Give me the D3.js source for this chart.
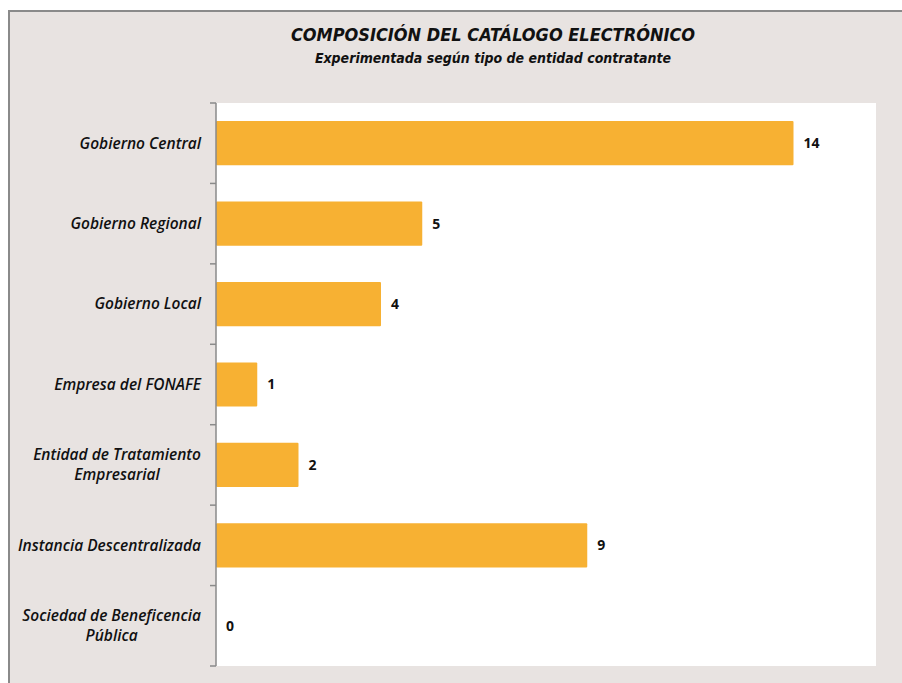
<!DOCTYPE html>
<html>
<head>
<meta charset="utf-8">
<script src="https://d3js.org/d3.v7.min.js"></script>
<style>
body { margin: 0; background: #fff; overflow: hidden; }
text { font-family: "Open Sans", Lato, sans-serif; }
.title { font-family: "DejaVu Sans Condensed", "DejaVu Sans", sans-serif; font-weight: bold; font-style: italic; font-size: 18px; fill: #111; }
.subtitle { font-family: "DejaVu Sans Condensed", "DejaVu Sans", sans-serif; font-weight: bold; font-style: italic; font-size: 14px; fill: #111; }
.cat text { font-style: italic; font-weight: 600; font-size: 15.5px; fill: #111; }
.val { font-weight: bold; font-size: 14px; fill: #111; }
</style>
</head>
<body>
<svg width="902" height="683"></svg>
<script>
const categories = [
  'Gobierno Central',
  'Gobierno Regional',
  'Gobierno Local',
  'Empresa del FONAFE',
  'Entidad de Tratamiento\nEmpresarial',
  'Instancia Descentralizada',
  'Sociedad de Beneficencia\nPública'
];
const values = [14, 5, 4, 1, 2, 9, 0];
const title = 'COMPOSICIÓN DEL CATÁLOGO ELECTRÓNICO';
const subtitle = 'Experimentada según tipo de entidad contratante';

const svg = d3.select('svg');
const W = 902, H = 683;
const margin = {left: 216, top: 103, right: 26, bottom: 17};
const plotW = W - margin.left - margin.right;
const plotH = H - margin.top - margin.bottom;

// frame
svg.append('rect').attr('x', 0).attr('y', 0).attr('width', W).attr('height', H).attr('fill', '#fff');
svg.append('rect').attr('x', 9).attr('y', 11).attr('width', W).attr('height', H)
  .attr('fill', '#e8e3e1').attr('stroke', '#8a8a8a').attr('stroke-width', 2);

svg.append('text').attr('class', 'title').attr('x', 493).attr('y', 41)
  .attr('text-anchor', 'middle').text(title);
svg.append('text').attr('class', 'subtitle').attr('x', 493).attr('y', 63)
  .attr('text-anchor', 'middle').text(subtitle);

const g = svg.append('g').attr('transform', `translate(${margin.left},${margin.top})`);
g.append('rect').attr('width', plotW).attr('height', plotH).attr('fill', '#fff');

const x = d3.scaleLinear().domain([0, 16]).range([0, plotW]);
const y = d3.scaleBand().domain(categories).range([0, plotH]).paddingInner(0.45).paddingOuter(0.225);

g.selectAll('.bar').data(values).join('rect')
  .attr('class', 'bar')
  .attr('x', 0)
  .attr('y', (d, i) => y(categories[i]))
  .attr('width', d => x(d))
  .attr('height', y.bandwidth())
  .attr('rx', 1)
  .attr('fill', '#f7b133');

g.selectAll('.val').data(values).join('text')
  .attr('class', 'val')
  .attr('x', d => x(d) + 10)
  .attr('y', (d, i) => y(categories[i]) + y.bandwidth() / 2)
  .attr('dy', '0.35em')
  .text(d => d);

// axis line with ticks at category boundaries
const step = plotH / categories.length;
const axis = g.append('g').attr('class', 'axis');
axis.append('line').attr('x1', 0).attr('x2', 0).attr('y1', 0).attr('y2', plotH)
  .attr('stroke', '#8a8a8a').attr('stroke-width', 1.5);
axis.selectAll('.tick').data(d3.range(categories.length + 1)).join('line')
  .attr('class', 'tick')
  .attr('x1', -6).attr('x2', 0)
  .attr('y1', d => d * step).attr('y2', d => d * step)
  .attr('stroke', '#8a8a8a').attr('stroke-width', 1.5);

// category labels: block right aligned, lines centred within block
const cat = g.append('g').attr('class', 'cat');
categories.forEach(c => {
  const lines = c.split('\n');
  const cy = y(c) + y.bandwidth() / 2;
  const lh = 20;
  const t = cat.append('text').attr('text-anchor', 'middle');
  lines.forEach((l, j) => {
    t.append('tspan').attr('x', 0)
      .attr('y', cy + (j - (lines.length - 1) / 2) * lh)
      .attr('dy', '0.35em').text(l);
  });
  const widths = t.selectAll('tspan').nodes().map(n => n.getComputedTextLength());
  const maxW = d3.max(widths);
  t.selectAll('tspan').attr('x', -15 - maxW / 2);
});
</script>
</body>
</html>
